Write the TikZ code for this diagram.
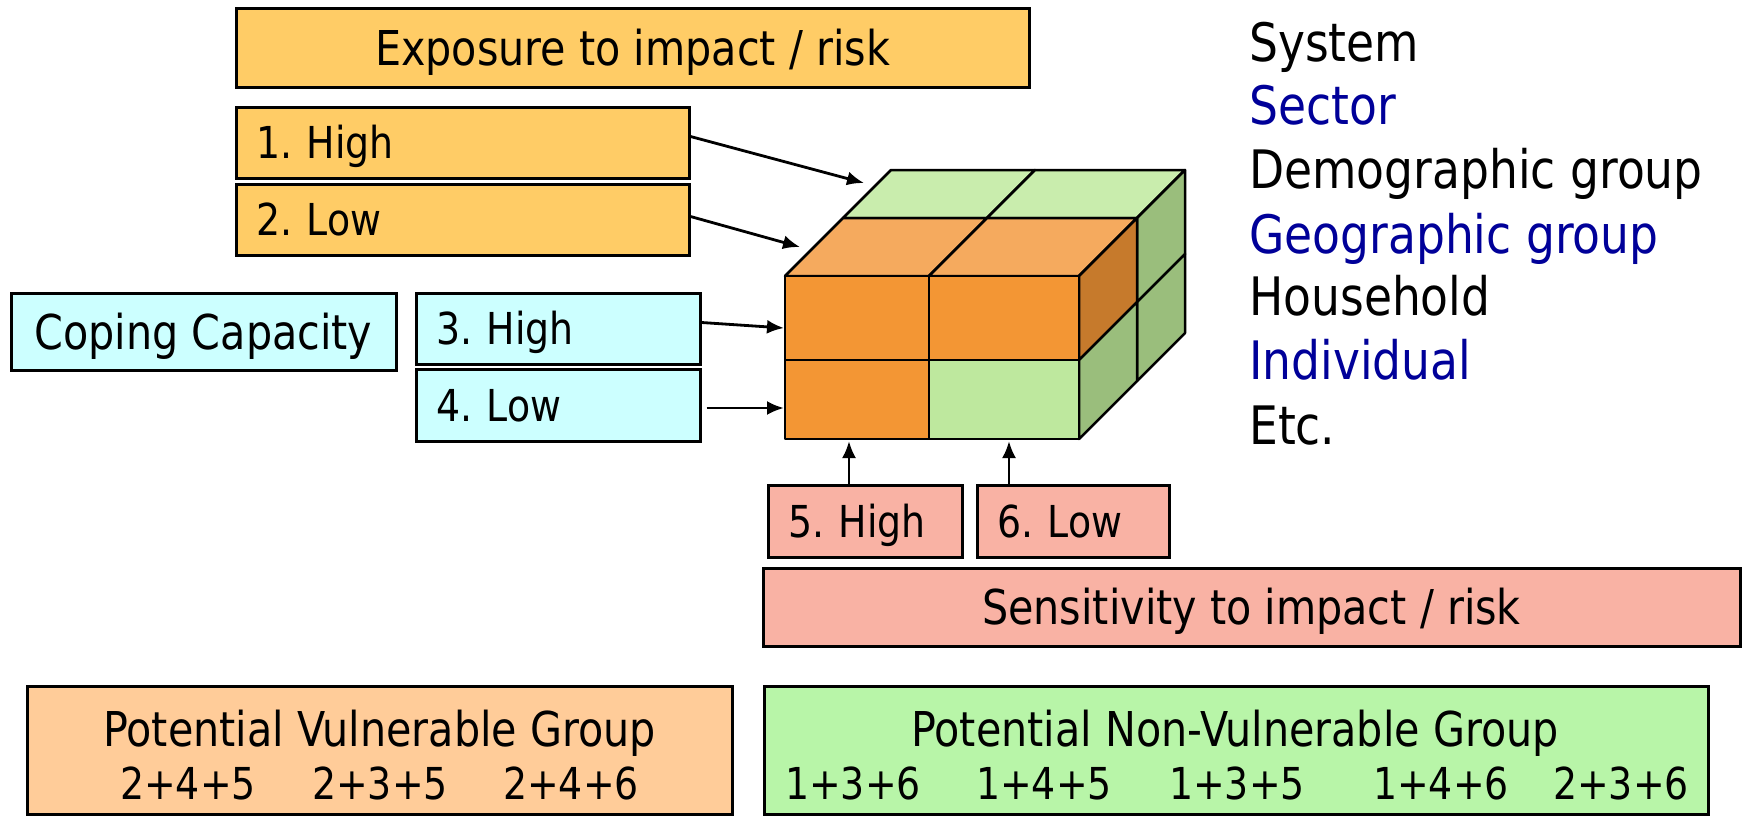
\documentclass[tikz,border=0pt]{standalone}
\usepackage{fontspec}
\setmainfont{DejaVu Sans}[FakeStretch=0.86]
\frenchspacing
\usetikzlibrary{arrows.meta}
\definecolor{expcol}{HTML}{FFCC66}
\definecolor{copecol}{HTML}{CCFFFF}
\definecolor{senscol}{HTML}{F9B2A4}
\definecolor{vulcol}{HTML}{FFCC99}
\definecolor{nonvcol}{HTML}{B8F5A8}
\definecolor{cubeor}{HTML}{F39634}
\definecolor{topor}{HTML}{F5AA5E}
\definecolor{darkor}{HTML}{C67A2C}
\definecolor{frontgr}{HTML}{BEE89E}
\definecolor{topgr}{HTML}{C9EDAD}
\definecolor{sidegr}{HTML}{9ABE7C}
\definecolor{listblue}{HTML}{000099}
\tikzset{
  box/.style={draw=black, line width=3pt, inner sep=0pt,
    font=\fontsize{48}{56}\selectfont, text height=35pt, text depth=0pt},
  lbl/.style={box, font=\fontsize{44}{52}\selectfont, text height=32pt,
    align=left, inner xsep=20pt},
  bigtxt/.style={inner sep=0pt, font=\fontsize{48}{56}\selectfont, text height=35pt, text depth=0pt},
  numtxt/.style={inner sep=0pt, font=\fontsize{44}{52}\selectfont, text height=32pt, text depth=0pt},
  listtxt/.style={anchor=west, inner sep=0pt, font=\fontsize{53}{60}\selectfont, text height=38.6pt, text depth=0pt},
  cubef/.style={draw=black, line width=2.5pt, line join=round},
  arr/.style={line width=2.8pt, -{Latex[length=17pt,width=14pt]}}
}
\begin{document}
\begin{tikzpicture}[x=1pt,y=-1pt]
\useasboundingbox (0,0) rectangle (1745,816);

% Exposure
\node[box, fill=expcol, minimum width=793pt, minimum height=78pt] (exp) at (632.5,48) {Exposure to impact / risk};
\node[lbl, fill=expcol, minimum height=71pt, text width=413pt] (e1) at (462.5,142.5) {1. High};
\node[lbl, fill=expcol, minimum height=71pt, text width=413pt] (e2) at (462.5,219.5) {2. Low};

% Coping
\node[box, fill=copecol, minimum width=385pt, minimum height=77pt] (cope) at (203.5,331.5) {Coping Capacity};
\node[lbl, fill=copecol, minimum height=71pt, text width=244pt] (c3) at (558,328.5) {3. High};
\node[lbl, fill=copecol, minimum height=72pt, text width=244pt] (c4) at (558,405) {4. Low};

% Sensitivity
\node[lbl, fill=senscol, minimum height=72pt, text width=154pt] (s5) at (865,521) {5. High};
\node[lbl, fill=senscol, minimum height=72pt, text width=152pt] (s6) at (1073,521) {6. Low};
\node[box, fill=senscol, minimum width=977pt, minimum height=78pt] (sens) at (1251.5,607) {Sensitivity to impact / risk};

% Groups
\node[box, fill=vulcol, minimum width=705pt, minimum height=128pt] (vul) at (379.5,750) {};
\node[box, fill=nonvcol, minimum width=944pt, minimum height=128pt] (nonv) at (1236,750) {};
\node[bigtxt] (vult) at (379.5,729) {Potential Vulnerable Group};
\node[numtxt] (v1) at (188,783.5) {2+4+5};
\node[numtxt] (v2) at (380,783.5) {2+3+5};
\node[numtxt] (v3) at (571,783.5) {2+4+6};
\node[bigtxt] (nonvt) at (1235,729) {Potential Non-Vulnerable Group};
\node[numtxt] (n1) at (853,783.5) {1+3+6};
\node[numtxt] (n2) at (1044,783.5) {1+4+5};
\node[numtxt] (n3) at (1237,783.5) {1+3+5};
\node[numtxt] (n4) at (1441,783.5) {1+4+6};
\node[numtxt] (n5) at (1621,783.5) {2+3+6};

% List
\node[listtxt] (l1) at (1249,42) {System};
\node[listtxt, text=listblue] (l2) at (1249,105.5) {Sector};
\node[listtxt] (l3) at (1249,169) {Demographic group};
\node[listtxt, text=listblue] (l4) at (1249,234) {Geographic group};
\node[listtxt] (l5) at (1249,296) {Household};
\node[listtxt, text=listblue] (l6) at (1249,360) {Individual};
\node[listtxt] (l7) at (1249,425) {Etc.};

% Cube: top face
\filldraw[cubef, fill=topgr] (843,218) -- (987,218) -- (1035,170) -- (891,170) -- cycle;
\filldraw[cubef, fill=topgr] (987,218) -- (1137,218) -- (1185,170) -- (1035,170) -- cycle;
\filldraw[cubef, fill=topor] (785,276) -- (929,276) -- (987,218) -- (843,218) -- cycle;
\filldraw[cubef, fill=topor] (929,276) -- (1079,276) -- (1137,218) -- (987,218) -- cycle;
% right face
\filldraw[cubef, fill=sidegr] (1137,218) -- (1185,170) -- (1185,254) -- (1137,302) -- cycle;
\filldraw[cubef, fill=sidegr] (1137,302) -- (1185,254) -- (1185,333) -- (1137,381) -- cycle;
\filldraw[cubef, fill=darkor] (1079,276) -- (1137,218) -- (1137,302) -- (1079,360) -- cycle;
\filldraw[cubef, fill=sidegr] (1079,360) -- (1137,302) -- (1137,381) -- (1079,439) -- cycle;
% front face
\filldraw[cubef, fill=cubeor] (785,276) rectangle (929,360);
\filldraw[cubef, fill=cubeor] (929,276) rectangle (1079,360);
\filldraw[cubef, fill=cubeor] (785,360) rectangle (929,439);
\filldraw[cubef, fill=frontgr] (929,360) rectangle (1079,439);

% arrow targets
\coordinate (t1) at (864,183);
\coordinate (t2) at (800,247);
\coordinate (t3) at (784,328);
\coordinate (t4) at (784,408);
\coordinate (t5) at (849,441);
\coordinate (t6) at (1009,441);

\draw[arr] ([yshift=6pt]e1.east) -- (t1);
\draw[arr] ([yshift=3pt]e2.east) -- (t2);
\draw[arr] ([yshift=6pt]c3.east) -- (t3);
\draw[arr] ([xshift=5pt,yshift=-3pt]c4.east) -- (t4);
\draw[arr] ([xshift=-16pt]s5.north) -- (t5);
\draw[arr] ([xshift=-64pt]s6.north) -- (t6);
\end{tikzpicture}
\end{document}
